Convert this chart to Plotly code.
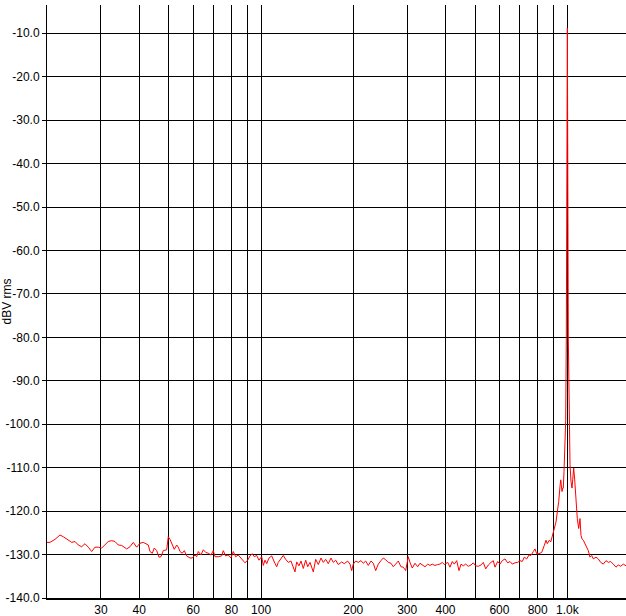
import plotly.graph_objects as go

# Frequency (Hz) and level (dBV rms)
freq_hz = [
    20.0, 20.45, 21.24, 22.05, 22.61, 23.48, 24.08, 24.69, 25.31, 25.96,
    26.61, 27.28, 27.99, 28.69, 29.41, 30.17, 30.93, 31.71, 32.53, 33.35,
    34.18, 35.07, 36.41, 37.33, 38.26, 39.25, 40.24, 41.25,
    42.83, 43.38, 44.14, 44.81, 45.62, 46.42, 47.12, 47.94, 49.18, 49.78,
    50.42, 51.30, 52.08, 53.02, 53.67, 54.36, 55.30, 56.14, 57.16, 58.60,
    59.62, 60.84, 61.63, 62.37, 63.65, 64.76, 65.94, 67.24, 68.62, 69.81,
    70.71, 72.48, 74.36, 75.26, 76.63, 78.14, 79.74, 81.14, 82.61, 84.24,
    85.97, 87.47, 88.59,
    90.41, 92.00, 93.60, 95.02, 96.75, 98.44, 100.46, 101.68, 102.98, 104.31,
    106.13, 108.30, 110.44, 112.45, 113.81, 116.15, 118.17, 120.32, 122.70, 125.22,
    127.40, 129.04, 130.70, 132.98, 134.99, 137.35, 139.85, 141.97, 144.45, 146.31,
    148.08, 150.77, 153.75, 156.90, 159.64, 162.54, 165.75, 169.15, 172.10, 175.24,
    178.70, 183.32, 186.94,
    191.78, 195.12, 197.61, 200.0, 203.64, 207.66, 211.92, 215.62, 219.54, 223.88,
    228.48, 232.46, 236.68, 241.36, 246.30, 250.60, 255.16, 260.20, 265.54, 270.16,
    275.08, 280.52, 286.26, 291.26, 296.56, 302.42, 306.30, 311.64, 318.04, 324.56,
    330.22, 335.98, 342.88, 349.90, 356.02, 362.22, 369.64, 377.22, 383.80, 390.50,
    396.42,
    406.7, 413.8, 421.0, 427.4, 435.2, 442.8, 449.5, 457.3, 465.6, 474.8,
    484.6, 493.0, 502.0, 511.9, 522.4, 531.5, 541.2, 551.9, 563.2, 573.0,
    580.4, 592.3, 602.6, 613.1, 625.7, 638.5, 649.7, 661.0, 674.6, 688.4,
    700.4, 712.6, 723.4, 736.6, 749.5, 760.8, 774.1, 784.0, 794.1, 808.0,
    824.5, 834.5, 840.8,
    851.6, 860.0, 873.0, 882.3, 890.9, 899.7, 909.2, 918.1, 927.1, 937.0,
    946.2, 951.2, 955.5, 960.5, 965.6, 970.0, 975.1, 982.4, 987.6, 992.1,
    1000.0, 1007.1, 1014.7, 1020.0, 1027.7, 1035.5, 1041.0, 1048.8, 1056.7, 1067.1,
    1077.6, 1089.0, 1099.7, 1108.0, 1116.3, 1127.3, 1141.8, 1156.5, 1170.4, 1185.5,
    1200.7, 1215.3, 1240.2, 1261.8, 1284.8, 1310.2, 1337.0, 1360.4, 1385.1, 1412.5,
    1441.4, 1466.6, 1493.3, 1522.7, 1554.0,
]

level_dbv = [
    -127.2, -127.2, -126.5, -125.5, -125.9, -126.8, -127.2, -127.0, -127.8, -128.2,
    -127.5, -128.3, -129.3, -128.3, -128.3, -128.5, -127.8, -127.0, -126.8, -127.0,
    -127.8, -127.9, -128.7, -128.2, -127.2, -128.3, -127.4, -127.2,
    -127.8, -129.3, -129.7, -128.5, -129.1, -130.6, -130.5, -129.1, -128.9, -125.9,
    -126.5, -127.8, -128.8, -127.8, -128.3, -129.3, -129.7, -129.1, -130.3, -130.8,
    -130.8, -130.1, -130.5, -129.3, -130.1, -128.9, -129.5, -129.7, -130.1, -129.1,
    -130.5, -130.5, -130.3, -129.1, -130.3, -130.1, -130.8, -129.3, -130.5, -130.1,
    -130.8, -131.2, -131.9,
    -131.3, -130.3, -129.8, -130.5, -130.2, -131.3, -130.5, -132.5, -131.3, -132.1,
    -130.8, -130.3, -131.7, -132.8, -131.8, -130.9, -130.2, -131.1, -131.8, -131.5,
    -133.2, -134.0, -131.7, -132.6, -131.5, -133.2, -131.3, -132.8, -131.8, -133.2,
    -134.0, -131.1, -132.3, -130.8, -131.8, -131.1, -132.1, -130.8, -131.8, -131.3,
    -132.3, -131.7, -132.1,
    -131.5, -132.2, -133.7, -132.2, -131.5, -131.8, -131.4, -132.0, -131.5, -132.5,
    -131.5, -132.0, -133.7, -132.2, -131.4, -130.8, -131.2, -131.8, -132.0, -132.8,
    -132.2, -131.5, -132.8, -132.9, -133.7, -130.5, -131.8, -133.1, -132.0, -132.8,
    -132.0, -132.3, -132.8, -132.2, -132.5, -132.2, -132.5, -132.3, -132.2, -131.8,
    -132.3,
    -131.8, -132.9, -131.6, -132.2, -131.4, -133.7, -132.2, -132.6, -132.2, -132.7,
    -132.4, -131.9, -132.6, -132.7, -132.4, -131.8, -133.3, -132.4, -131.8, -131.4,
    -132.9, -131.6, -132.2, -131.4, -131.0, -131.9, -131.6, -132.2, -131.9, -131.8,
    -131.4, -131.6, -130.6, -131.0, -130.1, -130.2, -129.3, -128.7, -129.8, -129.8,
    -129.5, -128.7, -127.9,
    -126.7, -127.5, -126.7, -127.1, -126.0, -124.8, -123.9, -122.5, -120.2, -117.8,
    -114.3, -112.8, -113.9, -115.5, -114.7, -114.7, -110.9, -105.4, -99.2, -80.0,
    -8.8, -80.0, -99.2, -109.3, -113.2, -114.7, -112.8, -110.1, -112.8, -117.8,
    -121.7, -124.0, -121.7, -125.6, -126.4, -126.7, -127.5, -128.3, -129.1, -130.6,
    -130.2, -131.0, -130.6, -131.0, -131.8, -132.2, -131.4, -131.8, -131.6, -132.2,
    -132.9, -132.4, -132.7, -132.2, -132.6,
]

x_tick_vals = [30, 40, 50, 60, 70, 80, 90, 100, 200, 300, 400, 500, 600, 700, 800, 900, 1000]
x_tick_text = ["30", "40", "", "60", "", "80", "", "100", "200", "300", "400", "", "600", "", "800", "", "1.0k"]
y_tick_vals = [-10, -20, -30, -40, -50, -60, -70, -80, -90, -100, -110, -120, -130, -140]
y_tick_text = ["-10.0", "-20.0", "-30.0", "-40.0", "-50.0", "-60.0", "-70.0", "-80.0",
               "-90.0", "-100.0", "-110.0", "-120.0", "-130.0", "-140.0"]

fig = go.Figure()
fig.add_trace(go.Scatter(
    x=freq_hz, y=level_dbv, mode="lines",
    line=dict(color="#ff0000", width=1),
    showlegend=False,
))

fig.update_layout(
    width=626, height=616,
    margin=dict(l=47, r=0, t=5, b=18),
    paper_bgcolor="white", plot_bgcolor="white",
    font=dict(family="Liberation Sans, Arial, sans-serif", size=12, color="black"),
)

fig.update_xaxes(
    type="log", range=[1.30103, 3.19145],
    tickmode="array", tickvals=x_tick_vals, ticktext=x_tick_text,
    showgrid=True, gridcolor="black", gridwidth=1,
    showline=True, linecolor="black", linewidth=2,
    ticks="", zeroline=False, automargin=False,
    ticklabelstandoff=0,
    tickfont=dict(size=12),
)

fig.update_yaxes(
    range=[-140, -3.5],
    tickmode="array", tickvals=y_tick_vals, ticktext=y_tick_text,
    showgrid=True, gridcolor="black", gridwidth=1,
    showline=True, linecolor="black", linewidth=1,
    ticks="outside", ticklen=4, tickcolor="black",
    zeroline=False, automargin=False,
    title=dict(text="dBV rms", standoff=4, font=dict(size=12)),
    tickfont=dict(size=12),
)

fig.write_html(
    "out.html",
    config={"displayModeBar": False},
    post_script="document.body.style.margin='0';document.body.style.padding='0';",
)
